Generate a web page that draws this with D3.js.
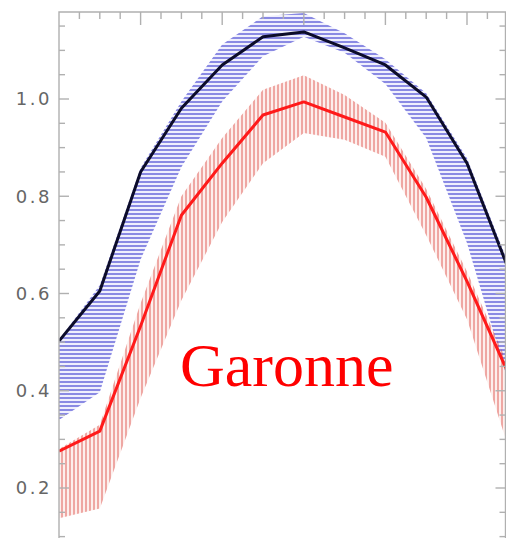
<!DOCTYPE html>
<html>
<head>
<meta charset="utf-8">
<script src="https://cdn.jsdelivr.net/npm/d3@7"></script>
<style>
	html, body { margin: 0; padding: 0; background: #fff; }
	svg { display: block; }
</style>
</head>
<body>
<div id="chart"></div>
<script>
/* eslint-disable no-magic-numbers */

var months = [0, 1, 2, 3, 4, 5, 6, 7, 8, 9, 10, 11],
	yTicks = [0.2, 0.4, 0.6, 0.8, 1.0],
	yTickLabels = ["0.2", "0.4", "0.6", "0.8", "1.0"],
	blackMean = [0.502, 0.605, 0.850, 0.981, 1.070, 1.128, 1.138, 1.105, 1.070, 1.004, 0.868, 0.654],
	blueHigh = [0.505, 0.617, 0.858, 0.995, 1.112, 1.170, 1.177, 1.135, 1.082, 1.012, 0.878, 0.665],
	blueLow = [0.340, 0.397, 0.670, 0.860, 0.995, 1.088, 1.128, 1.095, 1.031, 0.920, 0.704, 0.422],
	redMean = [0.276, 0.317, 0.533, 0.761, 0.868, 0.967, 0.994, 0.963, 0.932, 0.798, 0.625, 0.438],
	redHigh = [0.280, 0.330, 0.580, 0.800, 0.920, 1.019, 1.049, 1.008, 0.951, 0.815, 0.645, 0.455],
	redLow = [0.138, 0.158, 0.385, 0.586, 0.747, 0.868, 0.930, 0.916, 0.881, 0.720, 0.547, 0.288],
	riverName = "Garonne";

(function() {
	'use strict';

	var width = 506,
		height = 538,
		left = 59,
		right = 505.5,
		top = 12,
		x, y, svg, defs, plot, area, line;

	x = d3.scaleLinear().domain([0, 11]).range([left, 507.8]);
	y = d3.scaleLinear().domain([0.2, 1.0]).range([488, 99]);

	svg = d3.select("#chart")
		.append("svg")
		.attr("width", width)
		.attr("height", height);

	defs = svg.append("defs");

	defs.append("clipPath")
		.attr("id", "plot-clip")
		.append("rect")
		.attr("x", left)
		.attr("y", top)
		.attr("width", right - left)
		.attr("height", height - top);

	// horizontal hatching for the blue band
	defs.append("pattern")
		.attr("id", "hatch-blue")
		.attr("patternUnits", "userSpaceOnUse")
		.attr("width", 8)
		.attr("height", 4)
		.append("line")
		.attr("x1", 0).attr("x2", 8)
		.attr("y1", 2).attr("y2", 2)
		.attr("stroke", "#4444d0")
		.attr("stroke-opacity", 0.85)
		.attr("stroke-width", 1.4);

	// vertical hatching for the red band
	defs.append("pattern")
		.attr("id", "hatch-red")
		.attr("patternUnits", "userSpaceOnUse")
		.attr("width", 4)
		.attr("height", 8)
		.append("line")
		.attr("x1", 2).attr("x2", 2)
		.attr("y1", 0).attr("y2", 8)
		.attr("stroke", "#d8332c")
		.attr("stroke-opacity", 0.7)
		.attr("stroke-width", 1.1);

	plot = svg.append("g").attr("clip-path", "url(#plot-clip)");

	function band(lo, hi) {
		area = d3.area()
			.x(function(d) { return x(d); })
			.y0(function(d, i) { return y(lo[i]); })
			.y1(function(d, i) { return y(hi[i]); });
		return area(months);
	}

	function meanLine(vals) {
		line = d3.line()
			.x(function(d) { return x(d); })
			.y(function(d, i) { return y(vals[i]); });
		return line(months);
	}

	// soft tints under the hatching
	plot.append("path")
		.attr("d", band(blueLow, blueHigh))
		.attr("fill", "#dcdcfa")
		.attr("fill-opacity", 0.45);
	plot.append("path")
		.attr("d", band(redLow, redHigh))
		.attr("fill", "#fbdcd6")
		.attr("fill-opacity", 0.45);

	plot.append("path")
		.attr("d", band(blueLow, blueHigh))
		.attr("fill", "url(#hatch-blue)");
	plot.append("path")
		.attr("d", band(redLow, redHigh))
		.attr("fill", "url(#hatch-red)");

	plot.append("path")
		.attr("d", meanLine(blackMean))
		.attr("fill", "none")
		.attr("stroke", "#0c0c2a")
		.attr("stroke-width", 3)
		.attr("stroke-linejoin", "round");

	plot.append("path")
		.attr("d", meanLine(redMean))
		.attr("fill", "none")
		.attr("stroke", "#ff1a1a")
		.attr("stroke-width", 3)
		.attr("stroke-linejoin", "round");

	// frame
	var frame = svg.append("g")
		.attr("stroke", "#b0b0b0")
		.attr("stroke-width", 1.4)
		.attr("fill", "none");

	frame.append("path")
		.attr("d", "M" + left + "," + height + "V" + top + "H" + right + "V" + height);

	// left / right ticks, minor every 0.05
	var minorY = d3.range(0.1, 1.2, 0.05).filter(function(v) {
		return yTicks.every(function(t) { return Math.abs(t - v) > 1e-6; });
	});

	frame.selectAll(".yl-major").data(yTicks).join("line")
		.attr("x1", left).attr("x2", left + 10)
		.attr("y1", function(d) { return y(d); })
		.attr("y2", function(d) { return y(d); });
	frame.selectAll(".yl-minor").data(minorY).join("line")
		.attr("class", "yl-minor")
		.attr("x1", left).attr("x2", left + 6)
		.attr("y1", function(d) { return y(d); })
		.attr("y2", function(d) { return y(d); });
	frame.selectAll(".yr-major").data(yTicks).join("line")
		.attr("class", "yr-major")
		.attr("x1", right).attr("x2", right - 10)
		.attr("y1", function(d) { return y(d); })
		.attr("y2", function(d) { return y(d); });
	frame.selectAll(".yr-minor").data(minorY).join("line")
		.attr("class", "yr-minor")
		.attr("x1", right).attr("x2", right - 6)
		.attr("y1", function(d) { return y(d); })
		.attr("y2", function(d) { return y(d); });

	// top ticks, every half month, long every second month
	var topTicks = d3.range(0.5, 11, 0.5);
	frame.selectAll(".xt").data(topTicks).join("line")
		.attr("class", "xt")
		.attr("x1", function(d) { return x(d); })
		.attr("x2", function(d) { return x(d); })
		.attr("y1", top)
		.attr("y2", function(d) { return top + (d % 2 === 0 ? 13 : 7); });

	svg.selectAll(".ylab")
		.data(yTicks)
		.join("text")
		.attr("class", "ylab")
		.attr("x", 52)
		.attr("y", function(d) { return y(d); })
		.attr("dy", "0.36em")
		.attr("text-anchor", "end")
		.attr("font-family", "DejaVu Sans, sans-serif")
		.attr("font-size", 18)
		.attr("letter-spacing", 2.5)
		.attr("fill", "#666")
		.text(function(d, i) { return yTickLabels[i]; });

	svg.append("text")
		.attr("x", 180)
		.attr("y", 386)
		.attr("font-family", "Liberation Serif, Times New Roman, serif")
		.attr("font-size", 62)
		.attr("fill", "#ff0000")
		.text(riverName);
})();
</script>
</body>
</html>
